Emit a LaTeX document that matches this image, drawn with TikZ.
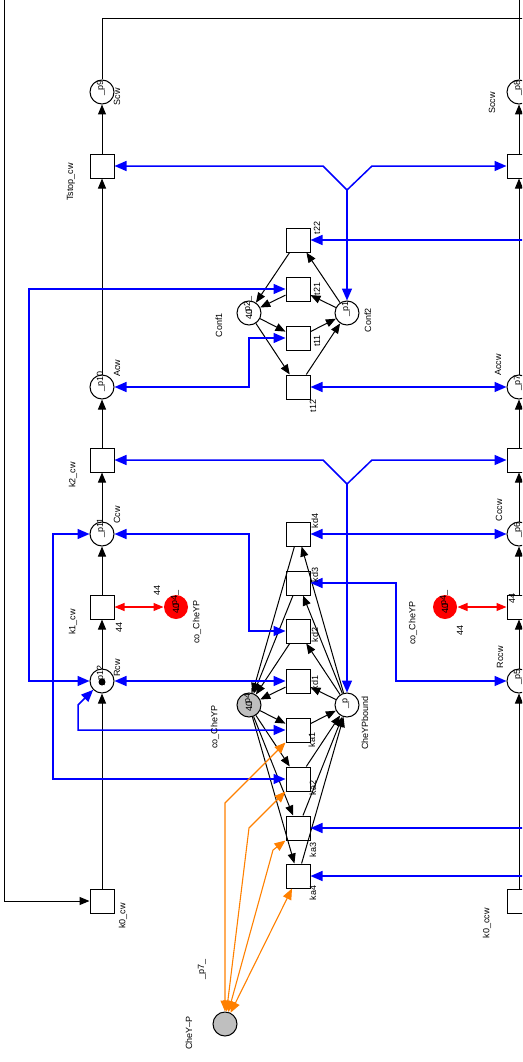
\documentclass[tikz,border=0pt]{standalone}
\usepackage{fontspec}
\setmainfont{Liberation Sans}
\usepackage{tikz}
\usetikzlibrary{arrows.meta, calc}

\begin{document}
\begin{tikzpicture}[x=1pt, y=-1pt,
        place/.style={circle, draw, line width=1pt, minimum size=24pt, inner sep=0pt, fill=white},
        trans/.style={rectangle, draw, line width=1pt, minimum size=24pt, inner sep=0pt, fill=white},
        token/.style={circle, fill=black, minimum size=7pt, inner sep=0pt},
        lbl/.style={rotate=90, inner sep=0pt, font=\fontsize{9}{10}\selectfont},
        arc/.style={draw, line width=1pt, ->, >={Triangle[length=10pt,width=8pt]}},
        readarc/.style={draw=blue, line width=1.5pt, <->, >={Triangle[length=12pt,width=10pt]}},
        modarc/.style={draw=orange, line width=1.1pt, <->, >={Triangle[length=11pt,width=9pt]}},
        redarc/.style={draw=red, line width=1.1pt, <->, >={Triangle[length=10pt,width=8pt]}}]
        \useasboundingbox (0,0) rectangle (522,1062);
        \clip (0,0) rectangle (522,1062);

        % cw column
        \node[place] (pScw) at (102,92) {};
        \node[trans] (tStopCw) at (102,166) {};
        \node[place] (pAcw) at (102,387) {};
        \node[trans] (k2cw) at (102,460) {};
        \node[place] (pCcw) at (102,534) {};
        \node[trans] (k1cw) at (102,607) {};
        \node[place] (pRcw) at (102,681) {};
        \node[token] (tokRcw) at (102,682) {};
        \node[trans] (k0cw) at (102,901) {};
        % ccw column
        \node[place] (pSccw) at (519,92) {};
        \node[trans] (tStopCcw) at (519,166) {};
        \node[place] (pAccw) at (519,387) {};
        \node[trans] (k2ccw) at (519,460) {};
        \node[place] (pCccw) at (519,534) {};
        \node[trans] (k1ccw) at (519,607) {};
        \node[place] (pRccw) at (519,681) {};
        \node[trans] (k0ccw) at (519,901) {};
        % conformation switch
        \node[trans] (t22) at (298,240) {};
        \node[trans] (t21) at (298,289) {};
        \node[trans] (t11) at (298,338) {};
        \node[trans] (t12) at (298,387) {};
        \node[place] (pConf1) at (249,313) {};
        \node[place] (pConf2) at (347,313) {};
        % CheY-P binding
        \node[trans] (kd4) at (298,534) {};
        \node[trans] (kd3) at (298,583) {};
        \node[trans] (kd2) at (298,631) {};
        \node[trans] (kd1) at (298,681) {};
        \node[trans] (ka1) at (298,730) {};
        \node[trans] (ka2) at (298,779) {};
        \node[trans] (ka3) at (298,828) {};
        \node[trans] (ka4) at (298,876) {};
        \node[place, fill=lightgray] (pCoCheYP) at (249,705) {};
        \node[place] (pBound) at (347,705) {};
        \node[place, fill=lightgray] (pCheYP) at (225,1024) {};
        \node[place, draw=none, fill=red] (pCoL) at (176,607) {};
        \node[place, draw=none, fill=red] (pCoR) at (445,607) {};

        \coordinate (topR) at (519,-6);
        \coordinate (topL) at (4,-6);
        \coordinate (botL) at (4,901);
        \coordinate (rimR) at (545,19);
        \coordinate (yConf) at (347,190);
        \coordinate (yBound) at (347,484);
        \coordinate (offT22) at (545,240);
        \coordinate (offKa3) at (545,828);
        \coordinate (offKa4) at (545,876);

        % motor cycle
        \foreach \a/\b in {k0cw/pRcw, pRcw/k1cw, k1cw/pCcw, pCcw/k2cw, k2cw/pAcw, pAcw/tStopCw, tStopCw/pScw,
                k0ccw/pRccw, pRccw/k1ccw, k1ccw/pCccw, pCccw/k2ccw, k2ccw/pAccw, pAccw/tStopCcw, tStopCcw/pSccw}
            \draw[arc] (\a) -- (\b);
        \draw[arc] (pSccw) -- (topR) -- (topL) -- (botL) -- (k0cw);
        \draw[arc] (pScw) |- (rimR) |- (k0ccw);

        % Conf1 / Conf2
        \foreach \a/\b in {t22/pConf1, t21/pConf1, pConf1/t11, pConf1/t12, t11/pConf2, t12/pConf2, pConf2/t21, pConf2/t22}
            \draw[arc] (\a) -- (\b);

        % bound / unbound
        \foreach \k in {kd1, kd2, kd3, kd4} {
            \draw[arc] (pBound) -- (\k);
            \draw[arc] (\k) -- (pCoCheYP);
        }
        \foreach \k in {ka1, ka2, ka3, ka4} {
            \draw[arc] (pCoCheYP) -- (\k);
            \draw[arc] (\k) -- (pBound);
        }

        % read arcs
        \draw[readarc] (tStopCw) -- (323,166) -- (yConf) -- (372,166) -- (tStopCcw);
        \draw[readarc, ->] (yConf) -- (pConf2);
        \draw[readarc] (k2cw) -- (323,460) -- (yBound) -- (372,460) -- (k2ccw);
        \draw[readarc, ->] (yBound) -- (pBound);
        \draw[readarc] (pAcw) -- (249,387) -- (249,338) -- (t11);
        \draw[readarc] (t12) -- (pAccw);
        \draw[readarc] (t21) -- (29,289) -- (29,681) -- (pRcw);
        \draw[readarc] (pRcw) -- (kd1);
        \draw[readarc] (pCcw) -- (249,534) -- (249,631) -- (kd2);
        \draw[readarc] (pCcw) -- (53,534) -- (53,779) -- (ka2);
        \draw[readarc] (pRcw) -- (78,705) -- (78,730) -- (ka1);
        \draw[readarc] (kd4) -- (pCccw);
        \draw[readarc] (kd3) -- (396,583) -- (396,681) -- (pRccw);
        \draw[readarc, ->] (offT22) -- (t22);
        \draw[readarc, ->] (offKa3) -- (ka3);
        \draw[readarc, ->] (offKa4) -- (ka4);

        % CheY-P
        \draw[modarc] (pCheYP) -- (225,803) -- (ka1.south west);
        \draw[modarc] (pCheYP) -- (249,828) -- (ka2.south west);
        \draw[modarc] (pCheYP) -- (273,850) -- (ka3.south west);
        \draw[modarc] (pCheYP) -- ([xshift=-6pt]ka4.south);

        \draw[redarc] (k1cw) -- (pCoL);
        \draw[redarc] (pCoR) -- (k1ccw);

        % labels
        \node[lbl] (nScw) at (101,88) {\_p9};
        \node[lbl] (lScw) at (117,97) {Scw};
        \node[lbl] (lTstopCw) at (71,182) {Tstop\_cw};
        \node[lbl] (nAcw) at (101,381) {\_p10};
        \node[lbl] (lAcw) at (117,368) {Acw};
        \node[lbl] (lK2cw) at (73,475) {k2\_cw};
        \node[lbl] (nCcw) at (101,528) {\_p11};
        \node[lbl] (lCcw) at (117,515) {Ccw};
        \node[lbl] (lK1cw) at (73,622) {k1\_cw};
        \node[lbl] (wK1cw) at (119,627) {44};
        \node[lbl] (nRcw) at (101,675) {\_p12};
        \node[lbl] (lRcw) at (117,668) {Rcw};
        \node[lbl] (lK0cw) at (123,916) {k0\_cw};

        \node[lbl] (nSccw) at (518,88) {\_p8};
        \node[lbl] (lSccw) at (492,103) {Sccw};
        \node[lbl] (nAccw) at (518,383) {\_p7};
        \node[lbl] (lAccw) at (498,365) {Accw};
        \node[lbl] (nCccw) at (518,530) {\_p6};
        \node[lbl] (lCccw) at (499,510) {Cccw};
        \node[lbl] (wK1ccw) at (512,598) {44};
        \node[lbl] (nRccw) at (518,677) {\_p5};
        \node[lbl] (lRccw) at (500,657) {Rccw};
        \node[lbl] (lK0ccw) at (487,923) {k0\_ccw};

        \node[lbl] (lt22) at (317,228) {t22};
        \node[lbl] (lt21) at (317,289) {t21};
        \node[lbl] (lt11) at (317,341) {t11};
        \node[lbl] (lt12) at (313,406) {t12};
        \node[lbl] (nConf1) at (248,306) {\_p2\_};
        \node[lbl] (mConf1) at (249,314) {40};
        \node[lbl] (lConf1) at (219,325) {Conf1};
        \node[lbl] (nConf2) at (346,309) {\_p1};
        \node[lbl] (lConf2) at (368,320) {Conf2};

        \node[lbl] (lkd4) at (315,521) {kd4};
        \node[lbl] (lkd3) at (315,575) {kd3};
        \node[lbl] (lkd2) at (315,635) {kd2};
        \node[lbl] (lkd1) at (315,683) {kd1};
        \node[lbl] (lka1) at (312,740) {ka1};
        \node[lbl] (lka2) at (313,788) {ka2};
        \node[lbl] (lka3) at (313,850) {ka3};
        \node[lbl] (lka4) at (313,893) {ka4};
        \node[lbl] (nCoCheYP) at (248,698) {\_p4\_};
        \node[lbl] (mCoCheYP) at (249,706) {40};
        \node[lbl] (lCoCheYP) at (215,727) {co\_CheYP};
        \node[lbl] (nBound) at (346,703) {\_p};
        \node[lbl] (lBound) at (365,723) {CheYPbound};

        \node[lbl] (nCoL) at (175,600) {\_p4\_};
        \node[lbl] (mCoL) at (176,608) {40};
        \node[lbl] (wCoL) at (157,590) {44};
        \node[lbl] (lCoL) at (197,622) {co\_CheYP};
        \node[lbl] (nCoR) at (444,600) {\_p4\_};
        \node[lbl] (mCoR) at (445,608) {40};
        \node[lbl] (wCoR) at (460,630) {44};
        \node[lbl] (lCoR) at (413,623) {co\_CheYP};

        \node[lbl] (nCheYP) at (202,969) {\_p7\_};
        \node[lbl] (lCheYP) at (189,1033) {CheY–P};
\end{tikzpicture}
\end{document}
